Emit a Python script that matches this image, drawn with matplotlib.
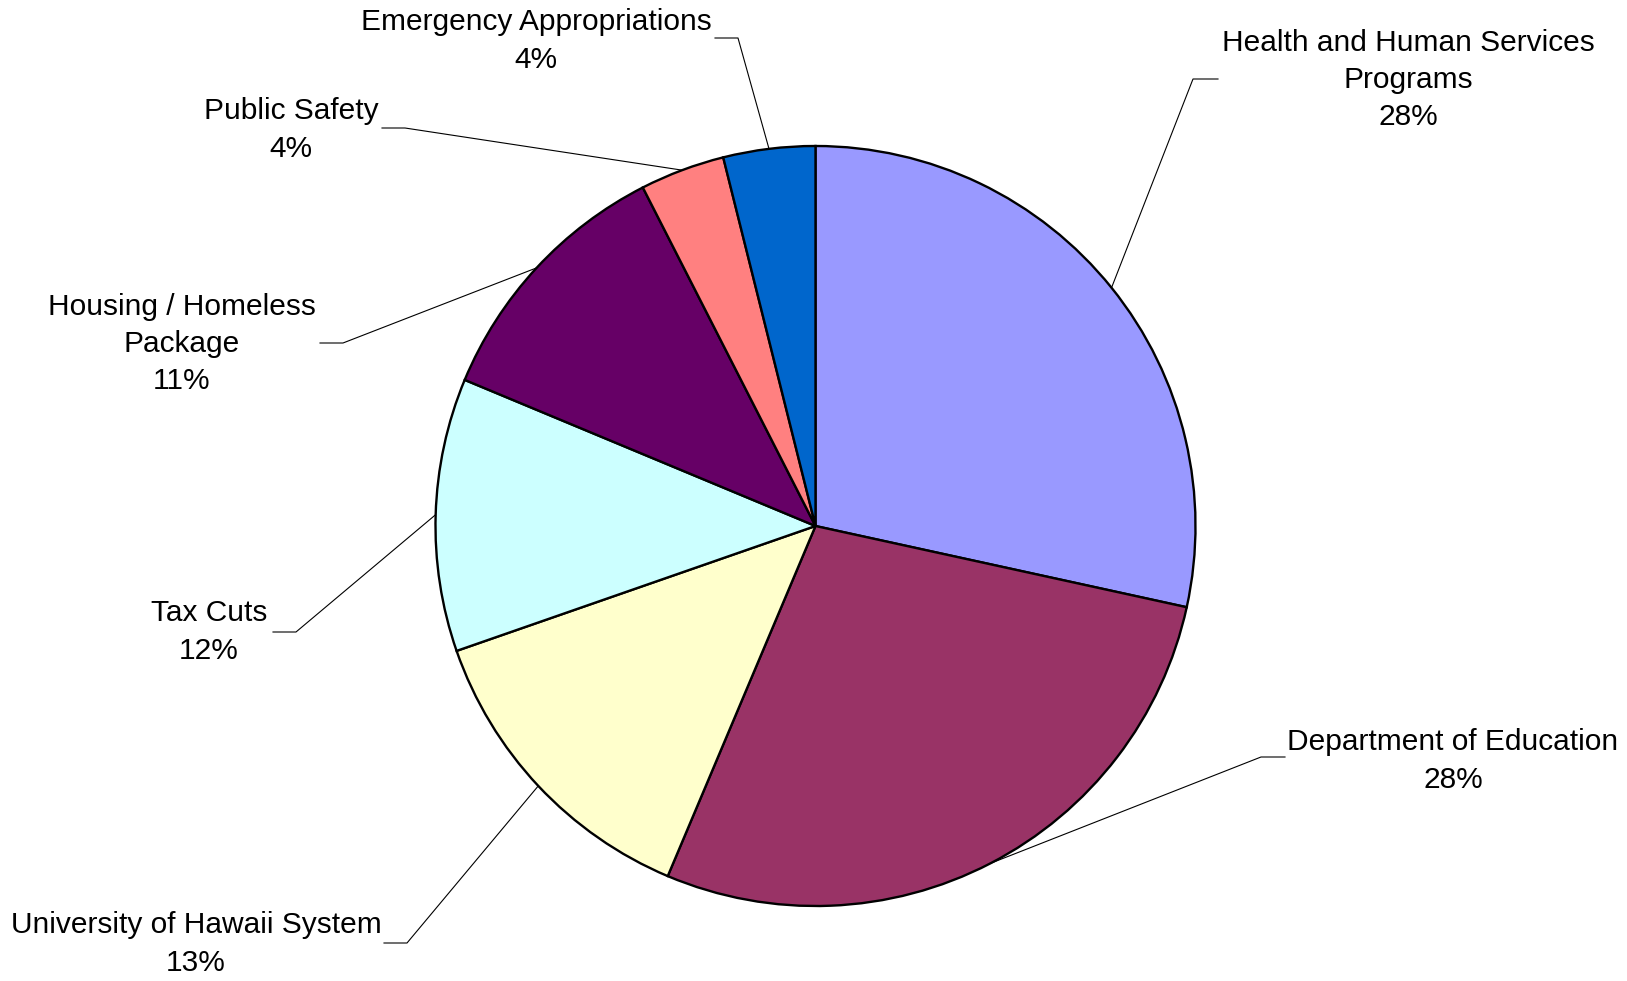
import numpy as np
import matplotlib; matplotlib.use('Agg')
import matplotlib.pyplot as plt

#===============================================================================
# Data (percent of total)
#===============================================================================
categories = ['Health and Human Services\nPrograms', 'Department of Education',
              'University of Hawaii System', 'Tax Cuts',
              'Housing / Homeless\nPackage', 'Public Safety',
              'Emergency Appropriations']
shares = [28.4, 27.9, 13.3, 11.6, 11.2, 3.6, 3.9]
colors = ['#9999FF', '#993366', '#FFFFCC', '#CCFFFF', '#660066', '#FF8080', '#0066CC']

# label layout in pixels (from top-left): text centre, line end at text, elbow
text_pos = [(1408, 80), (1453, 761), (196, 944), (209, 632), (182, 344), (291, 130), (536, 41)]
elbow = [(1218, 1193, 79), (1285, 1261, 757), (384, 407, 943), (273, 296, 632),
         (320, 343, 343), (382, 405, 128), (715, 738, 38)]

W, H = 1627, 981
cx, cy, R = 815.5, 526, 380

plt.rcParams['font.family'] = ['Liberation Sans', 'DejaVu Sans']
fig = plt.figure(figsize=(W/100, H/100), dpi=100)
ax = fig.add_axes([0, 0, 1, 1])

wedges, _ = ax.pie(shares, colors=colors, startangle=90, counterclock=False,
                   center=(cx, H-cy), radius=R,
                   wedgeprops=dict(edgecolor='black', linewidth=1.7))
ax.set_xlim(0, W)
ax.set_ylim(0, H)
ax.set_aspect('equal')
ax.axis('off')

total = sum(shares)
for w, name, v, tp, el in zip(wedges, categories, shares, text_pos, elbow):
  mid = np.deg2rad((w.theta1 + w.theta2)/2.)
  ax_x = cx + R*np.cos(mid)
  ax_y = (H-cy) + R*np.sin(mid)
  xt, xe, ye = el
  ax.plot([xt, xe, ax_x], [H-ye, H-ye, ax_y], color='black', lw=0.8, zorder=0)
  ax.text(tp[0], H-tp[1], '%s\n%.0f%%' % (name, 100.*v/total), ha='center', va='center',
          fontsize=21.5, linespacing=1.41)

fig.savefig('out.png', dpi=100)
